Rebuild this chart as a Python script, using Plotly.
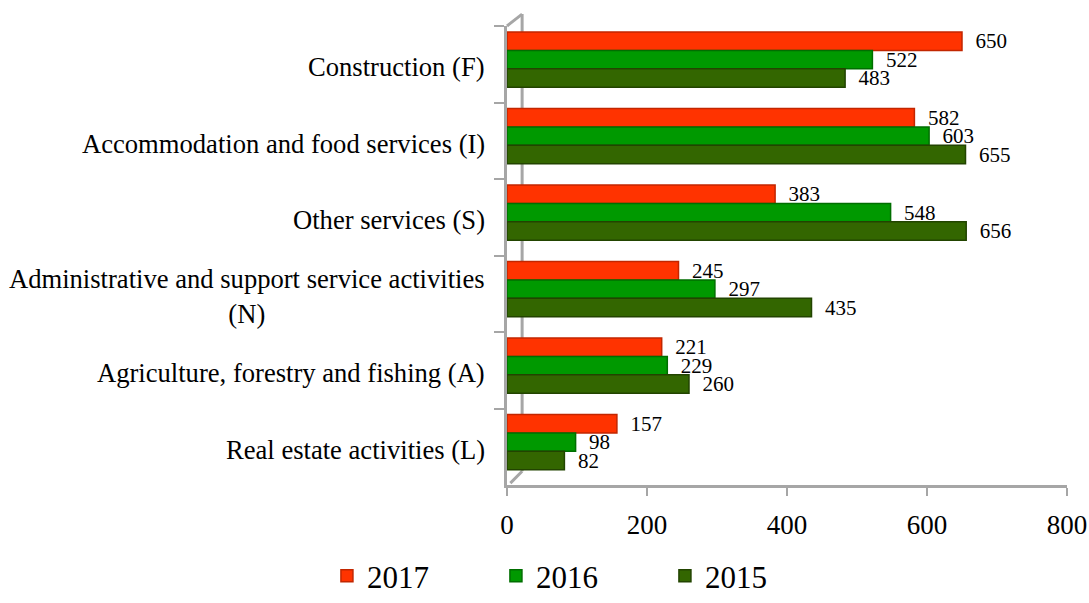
import plotly.graph_objects as go

categories = [
    "Construction (F)",
    "Accommodation and food services (I)",
    "Other services (S)",
    "Administrative and support service activities<br>(N)",
    "Agriculture, forestry and fishing (A)",
    "Real estate activities (L)",
]
v2017 = [650, 582, 383, 245, 221, 157]
v2016 = [522, 603, 548, 297, 229, 98]
v2015 = [483, 655, 656, 435, 260, 82]
x_ticks = [0, 200, 400, 600, 800]

series = [
    ("2017", v2017, "#FF3300", "#C22600", -0.42),
    ("2016", v2016, "#009900", "#006E00", -0.18),
    ("2015", v2015, "#336600", "#224400", 0.06),
]
FONT = "Liberation Serif"
GRAY = "#A6A6A6"
NBSP = "\u00a0\u00a0"

fig = go.Figure()
for name, vals, col, edge, off in series:
    fig.add_trace(go.Bar(
        y=categories, x=vals, name=name, orientation="h",
        width=0.24, offset=off,
        marker=dict(color=col, line=dict(color=edge, width=1.5)),
        text=[NBSP + str(v) for v in vals], textposition="outside",
        constraintext="none",
        textfont=dict(family=FONT, size=21, color="#000000"),
        cliponaxis=False,
    ))

# category labels (centered multi-line text, right-aligned block)
for c in categories:
    fig.add_annotation(x=0, xref="paper", xanchor="right", xshift=-20,
                       y=c, yref="y", yanchor="middle", yshift=-3, text=c, showarrow=False,
                       align="center", font=dict(family=FONT, size=26.6, color="#000000"))

# 3D wall edges
wall = dict(type="line", xref="paper", yref="paper", line=dict(color=GRAY, width=3), layer="below")
fig.add_shape(x0=0, y0=1.0, x1=0.027, y1=1.026, **wall)
fig.add_shape(x0=0.027, y0=1.026, x1=0.027, y1=0.03, **wall)
fig.add_shape(x0=0.027, y0=0.03, x1=0.006, y1=0.004, **wall)

fig.update_layout(
    width=1089, height=603,
    margin=dict(l=507, r=22, t=26, b=118, autoexpand=False),
    barmode="overlay",
    plot_bgcolor="white", paper_bgcolor="white",
    font=dict(family=FONT, size=27, color="#000000"),
    showlegend=True,
    legend=dict(orientation="h", xref="container", x=0.533, xanchor="center",
                yref="container", y=0.0, yanchor="bottom",
                font=dict(family=FONT, size=31), traceorder="normal",
                entrywidth=124, entrywidthmode="pixels"),
    xaxis=dict(range=[0, 800], tickvals=x_ticks, showgrid=False, zeroline=False,
               showline=True, linecolor=GRAY, linewidth=3, automargin=False,
               ticks="outside", ticklen=8, tickcolor=GRAY, tickwidth=2,
               ticklabelstandoff=6,
               tickfont=dict(family=FONT, size=27)),
    yaxis=dict(autorange="reversed", showgrid=False, showline=True,
               linecolor=GRAY, linewidth=3, ticks="outside", ticklen=10,
               tickcolor=GRAY, tickwidth=2, tickson="boundaries",
               showticklabels=False, automargin=False),
)

fig.write_html("out.html")
